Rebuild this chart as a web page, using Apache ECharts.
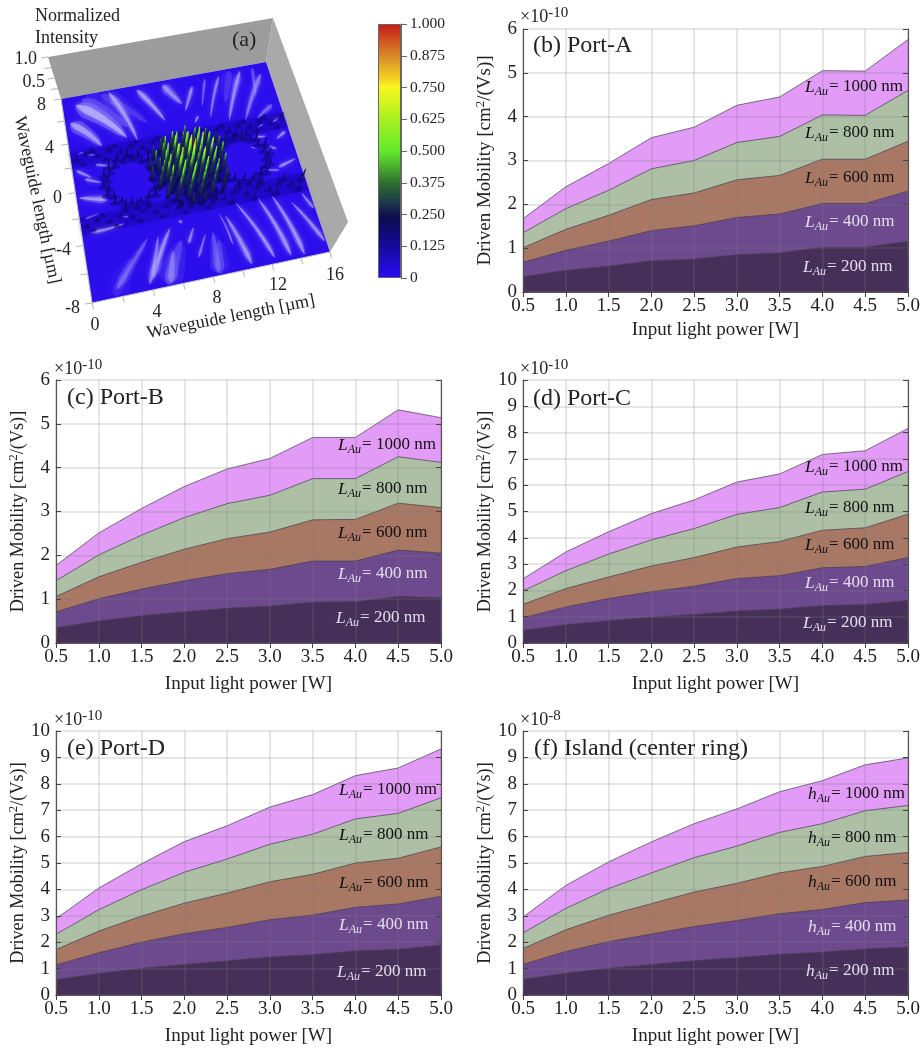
<!DOCTYPE html>
<html><head><meta charset="utf-8">
<style>html,body{margin:0;padding:0;background:#fff}#c{width:923px;height:1051px}</style>
<script src="https://cdn.jsdelivr.net/npm/echarts@6/dist/echarts.min.js"></script>
</head><body><div id="c"></div>
<script>
// ---------- data: input power ----------
const powerW = [0.5,1.0,1.5,2.0,2.5,3.0,3.5,4.0,4.5,5.0];
// Port-A (x 1e-10)
const portA1000=[1.67,2.40,2.93,3.52,3.76,4.26,4.45,5.05,5.04,5.76];
const portA800 =[1.35,1.90,2.32,2.81,3.00,3.41,3.55,4.04,4.03,4.60];
const portA600 =[1.01,1.43,1.75,2.11,2.26,2.56,2.66,3.03,3.03,3.44];
const portA400 =[0.68,0.95,1.16,1.40,1.51,1.70,1.78,2.02,2.02,2.30];
const portA200 =[0.35,0.49,0.59,0.71,0.75,0.85,0.89,1.02,1.02,1.16];
// Port-B (x 1e-10)
const portB1000=[1.77,2.51,3.07,3.57,3.97,4.21,4.69,4.69,5.32,5.14];
const portB800 =[1.42,2.01,2.46,2.86,3.18,3.37,3.75,3.75,4.25,4.12];
const portB600 =[1.06,1.51,1.84,2.14,2.38,2.53,2.81,2.82,3.19,3.09];
const portB400 =[0.71,1.01,1.23,1.42,1.58,1.68,1.87,1.87,2.12,2.05];
const portB200 =[0.35,0.50,0.62,0.71,0.79,0.84,0.93,0.94,1.06,1.03];
// Port-C (x 1e-10)
const portC1000=[2.44,3.46,4.23,4.92,5.44,6.12,6.43,7.17,7.31,8.16];
const portC800 =[1.98,2.75,3.38,3.92,4.35,4.89,5.15,5.74,5.85,6.52];
const portC600 =[1.47,2.07,2.51,2.93,3.25,3.65,3.86,4.29,4.38,4.90];
const portC400 =[0.96,1.37,1.69,1.95,2.16,2.45,2.56,2.86,2.91,3.25];
const portC200 =[0.48,0.69,0.85,0.98,1.08,1.22,1.28,1.42,1.46,1.62];
// Port-D (x 1e-10)
const portD1000=[2.89,4.05,4.97,5.81,6.41,7.12,7.59,8.31,8.60,9.32];
const portD800 =[2.30,3.23,3.99,4.65,5.15,5.71,6.09,6.67,6.88,7.47];
const portD600 =[1.72,2.42,2.99,3.48,3.86,4.29,4.57,5.00,5.18,5.61];
const portD400 =[1.14,1.60,2.00,2.32,2.56,2.85,3.03,3.32,3.45,3.74];
const portD200 =[0.58,0.81,1.00,1.16,1.29,1.44,1.52,1.67,1.73,1.88];
// Island (x 1e-8)
const island1000=[2.95,4.15,5.04,5.80,6.49,7.05,7.70,8.12,8.72,8.98];
const island800 =[2.35,3.28,4.03,4.62,5.20,5.64,6.16,6.49,6.98,7.18];
const island600 =[1.76,2.47,3.02,3.46,3.90,4.23,4.63,4.87,5.25,5.40];
const island400 =[1.16,1.65,2.02,2.31,2.59,2.82,3.08,3.24,3.50,3.60];
const island200 =[0.59,0.82,1.01,1.15,1.30,1.41,1.54,1.62,1.74,1.81];
const thicknessLabels=['1000','800','600','400','200'];
// ---------- data: panel (a) intensity map, in micrometres ----------
// streaks: x0,y0,x1,y1,half-width,bend,strength
const fieldStreaks=[
[1.5,7.6,4.5,4.5,15,-2,.32],[3,7.8,6,4.5,10,-1,.24],[6.5,-5,5,-7.9,15,0,.3],[9,-5.5,8.5,-7.9,11,0,.26],[13,7.8,12,5,9,0,.22],[3,-5.5,1.5,-7.9,13,0,.16],
[3.6,7.8,5.0,3.2,5,-2,.95],[1.0,7.2,4.3,3.6,10,-3,1],[0.4,5.7,2.4,3.3,8,-2,.9],[5.7,7.6,7.3,4.4,4.5,-1,.95],
[7.7,7.6,8.8,5.6,6,0,.8],[9.9,7.0,8.9,4.9,3,0,.85],[9.75,4.3,9.4,3.8,2,0,.9],[13.8,7.6,11.9,3.4,4,1,.85],
[15.3,7.0,13.1,3.2,4.5,1,.7],[12.1,7.5,10.6,3.9,2.6,1,.8],[15.4,4.1,14.0,3.2,4,0,.55],[11,7.5,10.2,5,2.2,0,.55],
[14.8,7.7,14.4,5,2.8,0,.45],
[13.5,1.6,14.2,1.57,2.2,0,.9],[14.9,1.16,15.7,1.65,2.4,0,.95],[14.2,.66,14.7,.37,2,0,.9],[14.4,-1.1,15.8,-.7,2.6,0,.9],
[13.4,-1.1,14.4,-1.35,1.8,0,.7],[12.9,.9,13.3,.7,1.2,0,.7],[15.0,2.6,15.6,2.9,1.6,0,.8],[13.8,2.4,14.3,2.6,1.2,0,.6],
[5.95,-3.97,4.12,-7.25,5,1,.9],[5.03,-4.37,3.84,-7.6,4.5,-1,.7],[4.34,-4.37,1.69,-7.46,6,0,.45],[7.49,-4.3,6.92,-5.37,2.6,0,.85],
[8.2,-4.9,7.35,-6.49,2.2,0,.7],[8.7,-4.9,8.4,-7.8,8,0,.38],[5.8,-5.6,5.2,-7.8,8,0,.5],
[0.2,-.45,2.1,-1,4.5,0,.95],[0.6,-3.18,3.0,-3.0,2.6,1,.9],[0.8,.9,1.9,.4,2.6,0,.85],[0.3,1.7,1.3,.93,2.6,0,.9],[1.7,1.9,2.9,1.5,2,0,.8],
[0.4,-2.1,1.4,-1.9,1.5,0,.6],[6.6,-3.6,6.8,-3.8,2.2,0,.9],[1.2,2.8,1.8,2.7,1.4,0,.75],[2.8,-2.4,3.3,-2.6,1.2,0,.7],[0.6,3.0,1.0,3.1,1.2,0,.7],
[10.7,-3.1,12.3,-7.6,3.4,-2,.9],[9.8,-3.9,10.7,-7.7,4.6,-1,.85],[12.3,-3.1,13.4,-7.7,4,-2,.9],[13.3,-3.1,14.3,-7.8,4,-2,.9],
[14.5,-3.9,15.9,-7.2,3.4,-1,.85],[15.4,-3.4,15.9,-4.7,2.6,0,.8],[9.4,-3.6,9.8,-6.1,1.3,-1,.9]];
// tall spikes on the central island, row by row from y=2.2 to y=-2.6, x=5.4..10.6 (hundredths of intensity)
const islandHeights=[
[0,0,0,30,0,34,0,48,0,40,0,28,0,0],
[0,0,38,0,52,0,46,26,50,0,44,0,30,0],
[0,36,0,56,24,62,30,58,36,64,0,46,0,26],
[0,0,52,20,66,34,70,40,62,28,60,22,44,0],
[30,50,0,64,28,58,34,74,44,76,30,58,0,34],
[0,42,60,24,70,38,80,46,56,36,68,26,54,0],
[36,0,48,62,30,74,42,92,50,64,32,60,0,38],
[0,46,58,26,66,36,60,44,72,30,62,24,50,0],
[0,38,0,60,24,68,30,56,34,66,28,54,0,30],
[0,0,44,22,62,28,64,32,58,26,56,20,36,0],
[0,0,34,0,50,20,60,24,54,22,42,0,28,0],
[0,0,0,28,0,40,22,38,20,36,0,26,0,0],
[0,0,0,0,22,0,32,14,30,0,22,0,0,0]];
// shorter spikes lying between the tall ones (same layout, shifted by a fifth of a micrometre)
const islandLowHeights=[
[0,0,0,0,14,20,0,22,16,0,0,0,0,0],
[0,0,16,20,0,28,16,30,0,24,18,0,0,0],
[0,14,0,28,18,34,22,0,30,0,26,16,0,0],
[12,0,24,16,36,0,38,26,0,32,20,18,14,0],
[0,22,30,0,34,24,0,40,28,0,30,0,18,0],
[12,0,26,32,0,40,28,0,34,26,0,24,0,12],
[0,20,0,30,36,0,42,26,0,34,24,0,16,0],
[0,16,24,0,28,32,0,36,24,0,30,18,0,0],
[0,0,18,26,0,30,24,0,32,22,0,16,12,0],
[0,0,0,20,24,0,30,22,0,28,18,0,0,0],
[0,0,0,14,0,22,0,26,18,0,14,0,0,0],
[0,0,0,0,10,0,16,0,14,10,0,0,0,0],
[0,0,0,0,0,8,0,10,0,8,0,0,0,0]];
const ringLeftHeights=[16,12,18,14,20,13,17,15,19,12,16,14,21,13,18,15,17,12,20,14,16,13,19,15,18,12,17,14,20,13,16,15];
const ringRightHeights=[18,14,20,13,17,19,15,21,14,18,16,22,13,19,15,20,14,17,13,18,15,16,12,19,14,17,13,20,15,18,14,16];
const waveguideUpper=[6,9,5,8,10,7,6,11,8,7,12,9,6,10,8,7,9,12,8,6,10,9,7,11,8,12,9,7,10,14,9,11,8,13,10,8,12,9,7,10,6];
const waveguideLower=[5,8,6,9,7,10,6,8,7,9,11,7,8,10,6,9,12,8,7,10,9,8,11,9,12,10,13,11,15,12,16,14,18,15,20,17,21,18,22,19,20];
const xTicksUm=[0,2,4,6,8,10,12,14,16];
const yTicksUm=[-8,-6,-4,-2,0,2,4,6,8];
const zTicks=[0.25,0.5,0.75,1];
const colormapStops=[[0,'#2a0cf5'],[.125,'#150a9a'],[.235,'#0b0b50'],[.30,'#1d3a4a'],[.375,'#2f7030'],[.5,'#62ea2c'],[.625,'#a8f020'],[.75,'#f8f820'],[.79,'#f2cc22'],[.875,'#d68a28'],[1,'#c81818']];

// ---------- layout ----------
const SERIF='"Liberation Serif","Times New Roman",serif';
const TXT='#222';
const panels=[
 {l:523,t:29,ymax:6,s:[portA1000,portA800,portA600,portA400,portA200],name:'Port-A'},
 {l:56,t:380,ymax:6,s:[portB1000,portB800,portB600,portB400,portB200],name:'Port-B'},
 {l:523,t:380,ymax:10,s:[portC1000,portC800,portC600,portC400,portC200],name:'Port-C'},
 {l:56,t:731,ymax:10,s:[portD1000,portD800,portD600,portD400,portD200],name:'Port-D'},
 {l:523,t:731,ymax:10,s:[island1000,island800,island600,island400,island200],name:'Island'}];
const W=385,H=263;
const fills=['#e39bf8','#adc0a6','#a87864','#6d4a8e','#46305a'];
const labelInk=['#111','#111','#111','#e4dcec','#e4dcec'];
const grid=[],xAxis=[],yAxis=[],series=[],graphic=[];
panels.forEach((p,k)=>{
 const gi=grid.length;
 grid.push({left:p.l,top:p.t,width:W,height:H+(p.t===731?1:0)});
 const xa=xAxis.length, ya=yAxis.length;
 const axisLine={show:true,lineStyle:{color:'#555',width:1.2}};
 xAxis.push({type:'value',gridIndex:gi,min:0.5,max:5,interval:0.5,z:5,name:'Input light power [W]',nameLocation:'middle',nameGap:k===0?29:32,
  nameTextStyle:{fontFamily:SERIF,fontSize:19,color:TXT},
  axisLine,axisTick:{show:true,inside:true,length:5,lineStyle:{color:'#444'}},
  axisLabel:{fontFamily:SERIF,fontSize:19,color:TXT,margin:5,formatter:v=>v.toFixed(1),showMinLabel:true,showMaxLabel:true,hideOverlap:false},
  splitLine:{show:true,lineStyle:{color:'rgba(125,125,125,0.25)',width:1.5}}});
 xAxis.push({type:'value',gridIndex:gi,position:'top',min:0.5,max:5,interval:0.5,z:5,axisLine,axisTick:{show:true,inside:true,length:5,lineStyle:{color:'#444'}},axisLabel:{show:false},splitLine:{show:false}});
 yAxis.push({type:'value',gridIndex:gi,min:0,max:p.ymax,interval:1,z:5,name:'Driven Mobility [cm{sup|2}/(Vs)]',nameLocation:'middle',nameGap:27,
  nameTextStyle:{fontFamily:SERIF,fontSize:k===0?19:18.2,color:TXT,rich:{sup:{fontFamily:SERIF,fontSize:13,color:TXT,verticalAlign:'top',lineHeight:22}}},
  axisLine,axisTick:{show:true,inside:true,length:5,lineStyle:{color:'#444'}},
  axisLabel:{fontFamily:SERIF,fontSize:19,color:TXT,margin:6,showMinLabel:true,showMaxLabel:true,hideOverlap:false},
  splitLine:{show:true,lineStyle:{color:'rgba(125,125,125,0.25)',width:1.5}}});
 yAxis.push({type:'value',gridIndex:gi,position:'right',min:0,max:p.ymax,interval:1,z:5,axisLine,axisTick:{show:true,inside:true,length:5,lineStyle:{color:'#444'}},axisLabel:{show:false},splitLine:{show:false}});
 p.s.forEach((vals,i)=>{
  series.push({type:'line',name:p.name+' '+thicknessLabels[i]+' nm',xAxisIndex:xa,yAxisIndex:ya,z:2+i*0.1,
   data:powerW.map((x,j)=>[x,vals[j]]),symbol:'none',silent:true,smooth:false,
   lineStyle:{color:'rgba(70,60,80,0.7)',width:1},areaStyle:{color:fills[i],opacity:1,origin:'start'}});
 });
});
const ann=[
 {sym:'L',lx:805,ly:[87,133,178,222,267],title:'(b) Port-A',tx:533,ty:46,ex:520,ey:17,exp:'-10'},
 {sym:'L',lx:338,ly:[445,489,533,574,618],title:'(c) Port-B',tx:67,ty:398,ex:54,ey:369,exp:'-10'},
 {sym:'L',lx:805,ly:[467,508,545,583,623],title:'(d) Port-C',tx:533,ty:399,ex:520,ey:369,exp:'-10'},
 {sym:'L',lx:339,ly:[790,835,883,925,972],title:'(e) Port-D',tx:67,ty:749,ex:54,ey:720,exp:'-10'},
 {sym:'h',lx:808,ly:[794,838,882,927,971],title:'(f) Island (center ring)',tx:534,ty:749,ex:520,ey:720,exp:'-8'}];
function txt(x,y,text,size,extra){return Object.assign({type:'text',z:100,x,y,style:Object.assign({text,fontFamily:SERIF,fontSize:size,fill:TXT,align:'left',verticalAlign:'middle'},extra&&extra.style||{})},extra&&extra.el||{});}
ann.forEach(a=>{
 graphic.push(txt(a.tx,a.ty,a.title,24));
 graphic.push(txt(a.ex,a.ey,'×10{s|'+a.exp+'}',18,{style:{rich:{s:{fontFamily:SERIF,fontSize:15,fill:TXT,verticalAlign:'top',lineHeight:22}}}}));
 a.ly.forEach((y,i)=>{
  const ink=labelInk[i];
  graphic.push(txt(a.lx+(i===4?-2:0),y,'{i|'+a.sym+'}{b|Au}{n|= '+thicknessLabels[i]+' nm}',17,{style:{fill:ink,rich:{
   i:{fontFamily:SERIF,fontSize:17.5,fontStyle:'italic',fill:ink},
   b:{fontFamily:SERIF,fontSize:12,fontStyle:'italic',fill:ink,verticalAlign:'bottom',lineHeight:22,padding:[0,1,0,0]},
   n:{fontFamily:SERIF,fontSize:17,fill:ink}}}}));
 });
});

// ---------- panel (a) ----------
const sgi=grid.length;
grid.push({left:0,top:0,width:100,height:100,show:false});
const sx=xAxis.length, sy=yAxis.length;
xAxis.push({type:'value',gridIndex:sgi,min:0,max:16,show:false});
yAxis.push({type:'value',gridIndex:sgi,min:-8,max:8,show:false});
const C={bl:[92,303],br:[330,252],tr:[266,62],tl:[61,99]};
const UP={bl:[8,-36],br:[18,-30],tr:[7,-44],tl:[-13,-42]};
const H2=(function(){const[x0,y0]=C.bl,[x1,y1]=C.br,[x2,y2]=C.tr,[x3,y3]=C.tl;
 const s1=x0-x1+x2-x3,s2=y0-y1+y2-y3,d1=x1-x2,d2=x3-x2,e1=y1-y2,e2=y3-y2,det=d1*e2-d2*e1;
 const g=(s1*e2-d2*s2)/det,h=(d1*s2-s1*e1)/det;
 return {a:x1-x0+g*x1,b:x3-x0+h*x3,c:x0,d:y1-y0+g*y1,e:y3-y0+h*y3,f:y0,g,h};})();
function toScreen(api,x,y,z){
 const q=api.coord([x,y]); const u=q[0]/100,v=1-q[1]/100;
 const w=H2.g*u+H2.h*v+1;
 let px=(H2.a*u+H2.b*v+H2.c)/w, py=(H2.d*u+H2.e*v+H2.f)/w;
 if(z){const ux=(1-u)*(1-v)*UP.bl[0]+u*(1-v)*UP.br[0]+u*v*UP.tr[0]+(1-u)*v*UP.tl[0];
  const uy=(1-u)*(1-v)*UP.bl[1]+u*(1-v)*UP.br[1]+u*v*UP.tr[1]+(1-u)*v*UP.tl[1];
  px+=ux*z;py+=uy*z;}
 return [px,py];
}
function rgb(h){return [parseInt(h.slice(1,3),16),parseInt(h.slice(3,5),16),parseInt(h.slice(5,7),16)];}
function cmap(t){for(let i=1;i<colormapStops.length;i++){if(t<=colormapStops[i][0]){const[a,ca]=colormapStops[i-1],[b,cb]=colormapStops[i];const f=(t-a)/(b-a),A=rgb(ca),B=rgb(cb);return 'rgb('+A.map((c,j)=>Math.round(c+(B[j]-c)*f)).join(',')+')';}}return colormapStops[colormapStops.length-1][1];}
const cust=(name,data,renderItem,z)=>series.push({type:'custom',name,coordinateSystem:'cartesian2d',xAxisIndex:sx,yAxisIndex:sy,z,silent:true,animation:false,data,renderItem,encode:{x:0,y:1}});
const poly=(pts,style)=>({type:'polygon',shape:{points:pts},style});
cust('walls',[[0,8],[16,8]],(p,api)=>{
 if(p.dataIndex===0)return poly([toScreen(api,0,8,0),toScreen(api,16,8,0),toScreen(api,16,8,1),toScreen(api,0,8,1)],{fill:'#9c9c9c'});
 return poly([toScreen(api,16,8,0),toScreen(api,16,-8,0),toScreen(api,16,-8,1),toScreen(api,16,8,1)],{fill:'#a9a9a9'});
},1);
cust('floor',[[0,-8]],(p,api)=>poly([toScreen(api,0,8),toScreen(api,16,8),toScreen(api,16,-8),toScreen(api,0,-8)],{fill:'#2c0eec'}),1.1);
const bandCentres=[2.6,-2.6];
cust('waveguide bands',bandCentres.map(y=>[0,y]),(p,api)=>{
 const y=bandCentres[p.dataIndex];
 return poly([toScreen(api,0,y+.7),toScreen(api,16,y+.7),toScreen(api,16,y-.7),toScreen(api,0,y-.7)],{fill:'rgba(24,6,170,0.4)',shadowBlur:4,shadowColor:'rgba(24,6,170,0.5)'});
},1.15);
cust('field streaks',fieldStreaks.map(s=>[s[0],s[1]]),(p,api)=>{
 const s=fieldStreaks[p.dataIndex];
 const P0=toScreen(api,s[0],s[1]),P1=toScreen(api,s[2],s[3]);
 const outward=Math.abs(s[3])>Math.abs(s[1]);
 const dx=P1[0]-P0[0],dy=P1[1]-P0[1],L=Math.hypot(dx,dy)||1,nx=-dy/L,ny=dx/L;
 const lens=(hw)=>{const A=[],B=[];for(let i=0;i<=20;i++){const t=i/20,d=outward?t:1-t,b=s[5]*4*t*(1-t);
   const w=hw*(0.25+0.75*Math.pow(d,0.7))*Math.min(1,Math.pow((1-d)*5,0.6)+0.001)*Math.min(1,Math.pow(d*6,0.6));
   const cx=P0[0]+dx*t+nx*b,cy=P0[1]+dy*t+ny*b;A.push([cx+nx*w,cy+ny*w]);B.unshift([cx-nx*w,cy-ny*w]);}return A.concat(B);};
 return {type:'group',children:[
  poly(lens(s[4]),{fill:'rgba(130,115,250,'+(0.5*s[6])+')',shadowBlur:7,shadowColor:'rgba(130,115,250,'+(0.7*s[6])+')'}),
  poly(lens(s[4]*0.45),{fill:'rgba(196,190,252,'+(0.65*s[6])+')',shadowBlur:4,shadowColor:'rgba(196,190,252,'+(0.6*s[6])+')'})]};
},1.2);
const spikes=[];
islandHeights.forEach((row,r)=>row.forEach((h,c)=>{if(h)spikes.push([5.4+0.4*c+(r%2?0.2:0),2.2-0.4*r,h/100,2.3,1]);}));
islandLowHeights.forEach((row,r)=>row.forEach((h,c)=>{if(h)spikes.push([5.6+0.4*c-(r%2?0.2:0),2.0-0.4*r,h/100,1.7,1]);}));
ringLeftHeights.forEach((h,i)=>{const a=i/ringLeftHeights.length*2*Math.PI,R=i%2?1.7:2.0;spikes.push([4+R*Math.cos(a),R*Math.sin(a),h/100*1.2,1.2,0]);});
ringRightHeights.forEach((h,i)=>{const a=i/ringRightHeights.length*2*Math.PI,R=i%2?1.7:2.0;spikes.push([12+R*Math.cos(a),R*Math.sin(a),h/100*1.2,1.2,0]);});
waveguideUpper.forEach((h,i)=>spikes.push([Math.min(15.9,0.4*i+.02),2.6+[.45,-.1,-.5,.2][i%4],h/100,1.1,0]));
waveguideLower.forEach((h,i)=>spikes.push([Math.min(15.9,0.4*i+.02),-2.6+[.45,-.1,-.5,.2][i%4],h/100,1.1,0]));
spikes.sort((a,b)=>b[1]-a[1]);
const footprints=spikes.filter(s=>s[0]>0.15&&s[0]<15.85);
cust('spike footprints',footprints.map(s=>[s[0],s[1]]),(p,api)=>{
 const s=footprints[p.dataIndex],B=toScreen(api,s[0],s[1]);
 const rx=s[4]?4:2.6+s[2]*14, ry=s[4]?2.2:1.5+s[2]*6;
 const pts=[];for(let i=0;i<12;i++){const a=i/12*2*Math.PI;pts.push([B[0]+rx*Math.cos(a),B[1]+ry*Math.sin(a)-ry*.2*Math.cos(a)]);}
 return poly(pts,{fill:s[4]?'rgba(10,6,110,0.3)':'rgba(14,6,130,0.5)'});
},1.3);
cust('intensity spikes',spikes.map(s=>[s[0],s[1]]),(p,api)=>{
 const s=spikes[p.dataIndex];
 const B=toScreen(api,s[0],s[1]),T=toScreen(api,s[0],s[1],s[2]),w=s[3];
 const stops=[{offset:0,color:s[4]?'#0b0b50':'#120a80'}];
 colormapStops.forEach(c=>{if(c[0]>.235&&c[0]<s[2])stops.push({offset:c[0]/s[2],color:c[1]});});
 stops.push({offset:1,color:s[2]<.25?'#0e0a60':cmap(s[2])});
 return poly([[B[0]-w,B[1]],[B[0]+w,B[1]],[T[0]+.5,T[1]],[T[0]-.5,T[1]]],{fill:new echarts.graphic.LinearGradient(B[0],B[1],T[0],T[1],stops,true)});
},1.4);
const tickRows=[].concat(xTicksUm.map(x=>[x,-8,0,1.5,6]),yTicksUm.map(y=>[0,y,0,-7,1]),zTicks.map(z=>[0,8,z,-7,1]));
cust('surface ticks',tickRows.map(t=>[t[0],t[1]]),(p,api)=>{
 const t=tickRows[p.dataIndex],a=toScreen(api,t[0],t[1],t[2]);
 return {type:'line',shape:{x1:a[0],y1:a[1],x2:a[0]+t[3],y2:a[1]+t[4]},style:{stroke:'#b5b5b5',lineWidth:1}};
},1.5);
cust('surface edges',[[0,-8],[0,8]],(p,api)=>{
 const a=p.dataIndex?toScreen(api,0,8,0):toScreen(api,0,-8),b=p.dataIndex?toScreen(api,0,-8,0):toScreen(api,16,-8);
 return {type:'line',shape:{x1:a[0],y1:a[1],x2:b[0],y2:b[1]},style:{stroke:'#c4c4c4',lineWidth:1.2}};
},1.5);
[['Normalized',35,16,18],['Intensity',35,38,18],['(a)',232,40,22]].forEach(t=>graphic.push(txt(t[1],t[2],t[0],t[3])));
[['1.0',37,59],['0.5',45,82],['8',46,105],['4',54,148],['0',62,198],['-4',71,250],['-8',80,308]].forEach(t=>graphic.push(txt(t[1],t[2],t[0],18,{style:{align:'right'}})));
[['0',95,325],['4',157,312],['8',217,298],['12',278,285],['16',335,275]].forEach(t=>graphic.push(txt(t[1],t[2],t[0],18,{style:{align:'center'}})));
graphic.push(txt(231,317,'Waveguide length [µm]',18,{style:{align:'center'},el:{rotation:11.2*Math.PI/180,originX:0,originY:0}}));
graphic.push(txt(37,200,'Waveguide length [µm]',18,{style:{align:'center'},el:{rotation:-78*Math.PI/180,originX:0,originY:0}}));

const cgi=grid.length;
grid.push({left:378,top:24,width:23,height:254,show:false});
const cx=xAxis.length, cy=yAxis.length;
const colorbarLevels=[1];
const colorbarCategories=['intensity'];
xAxis.push({type:'category',gridIndex:cgi,data:colorbarCategories,show:false});
yAxis.push({type:'value',gridIndex:cgi,position:'right',min:0,max:1,interval:0.125,z:5,
 axisLine:{show:true,lineStyle:{color:'#666',width:1}},axisTick:{show:true,length:6,lineStyle:{color:'#666'}},splitLine:{show:false},
 axisLabel:{fontFamily:SERIF,fontSize:15.5,color:TXT,margin:9,formatter:v=>v===0?'0':v.toFixed(3),showMinLabel:true,showMaxLabel:true,hideOverlap:false}});
series.push({type:'bar',name:'colour scale',xAxisIndex:cx,yAxisIndex:cy,barWidth:'100%',silent:true,data:colorbarLevels,
 itemStyle:{borderColor:'#666',borderWidth:1,color:new echarts.graphic.LinearGradient(0,1,0,0,colormapStops.map(c=>({offset:c[0],color:c[1]})))}});

const chart=echarts.init(document.getElementById('c'),null,{renderer:'canvas'});
chart.setOption({animation:false,backgroundColor:'#fff',grid,xAxis,yAxis,series,graphic:{elements:graphic},tooltip:{show:false},legend:{show:false}});
</script></body></html>
